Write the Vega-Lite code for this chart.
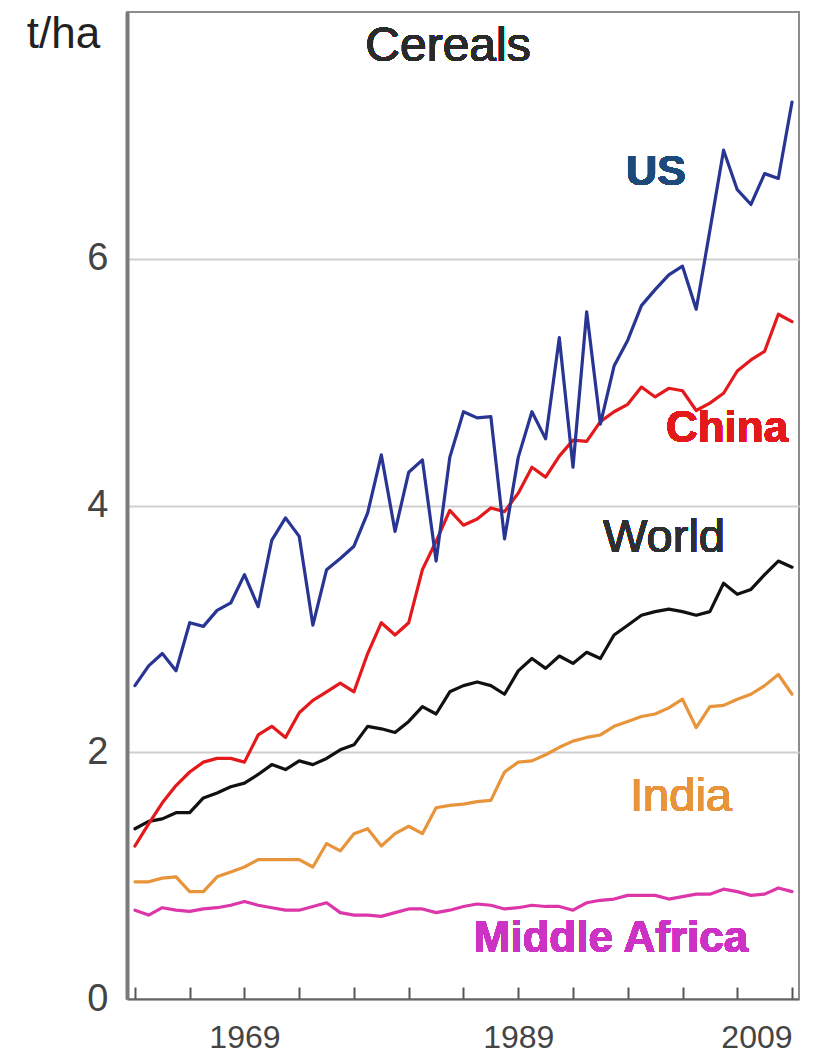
{
  "$schema": "https://vega.github.io/schema/vega-lite/v6.json",
  "width": 672,
  "height": 987,
  "autosize": {"type": "none"},
  "padding": {"left": 127, "top": 12, "right": 21, "bottom": 62},
  "background": "white",
  "config": {
    "font": "Liberation Sans",
    "view": {"stroke": "#8c8c8c", "strokeWidth": 2}
  },
  "data": {
    "values": [
      {"year": 1961, "US": 2.54, "China": 1.24, "World": 1.38, "India": 0.95, "Middle Africa": 0.72},
      {"year": 1962, "US": 2.70, "China": 1.42, "World": 1.44, "India": 0.95, "Middle Africa": 0.68},
      {"year": 1963, "US": 2.80, "China": 1.59, "World": 1.46, "India": 0.98, "Middle Africa": 0.74},
      {"year": 1964, "US": 2.66, "China": 1.73, "World": 1.51, "India": 0.99, "Middle Africa": 0.72},
      {"year": 1965, "US": 3.05, "China": 1.84, "World": 1.51, "India": 0.87, "Middle Africa": 0.71},
      {"year": 1966, "US": 3.02, "China": 1.92, "World": 1.63, "India": 0.87, "Middle Africa": 0.73},
      {"year": 1967, "US": 3.15, "China": 1.95, "World": 1.67, "India": 0.99, "Middle Africa": 0.74},
      {"year": 1968, "US": 3.21, "China": 1.95, "World": 1.72, "India": 1.03, "Middle Africa": 0.76},
      {"year": 1969, "US": 3.44, "China": 1.92, "World": 1.75, "India": 1.07, "Middle Africa": 0.79},
      {"year": 1970, "US": 3.18, "China": 2.14, "World": 1.82, "India": 1.13, "Middle Africa": 0.76},
      {"year": 1971, "US": 3.72, "China": 2.21, "World": 1.90, "India": 1.13, "Middle Africa": 0.74},
      {"year": 1972, "US": 3.90, "China": 2.12, "World": 1.86, "India": 1.13, "Middle Africa": 0.72},
      {"year": 1973, "US": 3.75, "China": 2.32, "World": 1.93, "India": 1.13, "Middle Africa": 0.72},
      {"year": 1974, "US": 3.03, "China": 2.42, "World": 1.90, "India": 1.07, "Middle Africa": 0.75},
      {"year": 1975, "US": 3.48, "China": 2.49, "World": 1.95, "India": 1.26, "Middle Africa": 0.78},
      {"year": 1976, "US": 3.57, "China": 2.56, "World": 2.02, "India": 1.20, "Middle Africa": 0.70},
      {"year": 1977, "US": 3.67, "China": 2.49, "World": 2.06, "India": 1.34, "Middle Africa": 0.68},
      {"year": 1978, "US": 3.94, "China": 2.80, "World": 2.21, "India": 1.38, "Middle Africa": 0.68},
      {"year": 1979, "US": 4.41, "China": 3.05, "World": 2.19, "India": 1.24, "Middle Africa": 0.67},
      {"year": 1980, "US": 3.79, "China": 2.95, "World": 2.16, "India": 1.34, "Middle Africa": 0.70},
      {"year": 1981, "US": 4.27, "China": 3.05, "World": 2.25, "India": 1.40, "Middle Africa": 0.73},
      {"year": 1982, "US": 4.37, "China": 3.48, "World": 2.37, "India": 1.34, "Middle Africa": 0.73},
      {"year": 1983, "US": 3.55, "China": 3.71, "World": 2.31, "India": 1.55, "Middle Africa": 0.70},
      {"year": 1984, "US": 4.39, "China": 3.96, "World": 2.49, "India": 1.57, "Middle Africa": 0.72},
      {"year": 1985, "US": 4.76, "China": 3.84, "World": 2.54, "India": 1.58, "Middle Africa": 0.75},
      {"year": 1986, "US": 4.71, "China": 3.89, "World": 2.57, "India": 1.60, "Middle Africa": 0.77},
      {"year": 1987, "US": 4.72, "China": 3.98, "World": 2.54, "India": 1.61, "Middle Africa": 0.76},
      {"year": 1988, "US": 3.73, "China": 3.95, "World": 2.47, "India": 1.84, "Middle Africa": 0.73},
      {"year": 1989, "US": 4.39, "China": 4.10, "World": 2.66, "India": 1.92, "Middle Africa": 0.74},
      {"year": 1990, "US": 4.76, "China": 4.31, "World": 2.76, "India": 1.93, "Middle Africa": 0.76},
      {"year": 1991, "US": 4.54, "China": 4.23, "World": 2.68, "India": 1.98, "Middle Africa": 0.75},
      {"year": 1992, "US": 5.36, "China": 4.40, "World": 2.78, "India": 2.04, "Middle Africa": 0.75},
      {"year": 1993, "US": 4.31, "China": 4.53, "World": 2.72, "India": 2.09, "Middle Africa": 0.72},
      {"year": 1994, "US": 5.57, "China": 4.52, "World": 2.81, "India": 2.12, "Middle Africa": 0.78},
      {"year": 1995, "US": 4.66, "China": 4.68, "World": 2.76, "India": 2.14, "Middle Africa": 0.80},
      {"year": 1996, "US": 5.13, "China": 4.76, "World": 2.95, "India": 2.21, "Middle Africa": 0.81},
      {"year": 1997, "US": 5.34, "China": 4.82, "World": 3.03, "India": 2.25, "Middle Africa": 0.84},
      {"year": 1998, "US": 5.62, "China": 4.96, "World": 3.11, "India": 2.29, "Middle Africa": 0.84},
      {"year": 1999, "US": 5.75, "China": 4.88, "World": 3.14, "India": 2.31, "Middle Africa": 0.84},
      {"year": 2000, "US": 5.87, "China": 4.95, "World": 3.16, "India": 2.36, "Middle Africa": 0.81},
      {"year": 2001, "US": 5.94, "China": 4.93, "World": 3.14, "India": 2.43, "Middle Africa": 0.83},
      {"year": 2002, "US": 5.59, "China": 4.77, "World": 3.11, "India": 2.20, "Middle Africa": 0.85},
      {"year": 2003, "US": 6.23, "China": 4.83, "World": 3.14, "India": 2.37, "Middle Africa": 0.85},
      {"year": 2004, "US": 6.88, "China": 4.91, "World": 3.37, "India": 2.38, "Middle Africa": 0.89},
      {"year": 2005, "US": 6.56, "China": 5.09, "World": 3.28, "India": 2.43, "Middle Africa": 0.87},
      {"year": 2006, "US": 6.44, "China": 5.18, "World": 3.32, "India": 2.47, "Middle Africa": 0.84},
      {"year": 2007, "US": 6.69, "China": 5.25, "World": 3.44, "India": 2.54, "Middle Africa": 0.85},
      {"year": 2008, "US": 6.65, "China": 5.55, "World": 3.55, "India": 2.63, "Middle Africa": 0.90},
      {"year": 2009, "US": 7.27, "China": 5.49, "World": 3.50, "India": 2.47, "Middle Africa": 0.87}
    ]
  },
  "layer": [
    {
      "transform": [
        {"fold": ["Middle Africa", "India", "World", "China", "US"], "as": ["series", "yield"]}
      ],
      "mark": {"type": "line", "strokeWidth": 3.2, "strokeJoin": "round", "strokeCap": "round"},
      "encoding": {
        "x": {
          "field": "year",
          "type": "quantitative",
          "scale": {"domain": [1960.42, 2009.51], "nice": false, "zero": false},
          "axis": {
            "title": null,
            "grid": false,
            "values": [1961, 1962, 1963, 1964, 1965, 1966, 1967, 1968, 1969, 1970, 1971, 1972, 1973, 1974, 1975, 1976, 1977, 1978, 1979, 1980, 1981, 1982, 1983, 1984, 1985, 1986, 1987, 1988, 1989, 1990, 1991, 1992, 1993, 1994, 1995, 1996, 1997, 1998, 1999, 2000, 2001, 2002, 2003, 2004, 2005, 2006, 2007, 2008, 2009],
            "labelExpr": "indexof([1969, 1989, 2009], datum.value) >= 0 ? format(datum.value, 'd') : ''",
            "labelOverlap": false,
            "labelFlush": 10,
            "labelFontSize": 32,
            "labelColor": "#444444",
            "labelPadding": 35,
            "tickSize": -12,
            "tickColor": "#555555",
            "tickWidth": 2,
            "domainColor": "#666666",
            "domainWidth": 2
          }
        },
        "y": {
          "field": "yield",
          "type": "quantitative",
          "scale": {"domain": [0, 8], "nice": false},
          "axis": {
            "values": [0, 2, 4, 6],
            "format": "d",
            "title": "t/ha",
            "titleAngle": 0,
            "titleX": -64,
            "titleY": 35,
            "titleAlign": "center",
            "titleBaseline": "alphabetic",
            "titleFontSize": 44,
            "titleFontWeight": "normal",
            "titleColor": "#222222",
            "labelFontSize": 38,
            "labelColor": "#444444",
            "labelPadding": 19,
            "ticks": false,
            "domainColor": "#7a7a7a",
            "domainWidth": 4,
            "gridColor": "#cfcfcf",
            "gridWidth": 2
          }
        },
        "color": {
          "field": "series",
          "type": "nominal",
          "scale": {
            "domain": ["US", "China", "World", "India", "Middle Africa"],
            "range": ["#283593", "#e3191c", "#111111", "#e8943a", "#dc36a8"]
          },
          "legend": null
        }
      }
    },
    {
      "mark": {"type": "text", "text": "Cereals", "fontSize": 48, "color": "#2a2a2a", "align": "center", "baseline": "middle"},
      "encoding": {"x": {"datum": 1983.87}, "y": {"datum": 7.72}}
    },
    {
      "mark": {"type": "text", "text": "US", "fontSize": 43, "fontWeight": "bold", "color": "#1d4a7a", "align": "center", "baseline": "middle"},
      "encoding": {"x": {"datum": 1999.06}, "y": {"datum": 6.7}}
    },
    {
      "mark": {"type": "text", "text": "China", "fontSize": 44, "fontWeight": "bold", "color": "#e3191c", "align": "center", "baseline": "middle"},
      "encoding": {"x": {"datum": 2004.25}, "y": {"datum": 4.62}}
    },
    {
      "mark": {"type": "text", "text": "World", "fontSize": 47, "color": "#2f2f2f", "align": "center", "baseline": "middle"},
      "encoding": {"x": {"datum": 1999.65}, "y": {"datum": 3.74}}
    },
    {
      "mark": {"type": "text", "text": "India", "fontSize": 47, "color": "#e8943a", "align": "center", "baseline": "middle"},
      "encoding": {"x": {"datum": 2000.89}, "y": {"datum": 1.64}}
    },
    {
      "mark": {"type": "text", "text": "Middle Africa", "fontSize": 44, "fontWeight": "bold", "color": "#cc33c4", "align": "center", "baseline": "middle"},
      "encoding": {"x": {"datum": 1995.77}, "y": {"datum": 0.49}}
    }
  ]
}
